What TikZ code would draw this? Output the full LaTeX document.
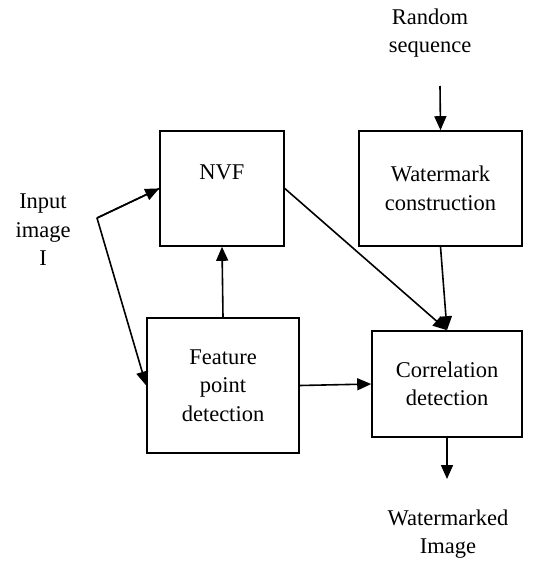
\documentclass[tikz,border=0pt]{standalone}
\usepackage{fontspec}
\setmainfont{Liberation Serif}
\usetikzlibrary{arrows.meta}
\begin{document}
\begin{tikzpicture}[x=1pt,y=-1pt,
  every node/.style={font=\fontsize{22.5}{28.5}\selectfont, align=center, inner sep=0pt},
  blockbox/.style={draw, line width=1.6pt, minimum width=#1},
  flow/.style={line width=1.6pt, -{Triangle[length=14pt,width=12pt]}},
  plain/.style={line width=1.6pt}]
\useasboundingbox (0,0) rectangle (534,561);

% processing blocks
\node[blockbox=124pt, minimum height=115pt] (nvf) at (222,188.5) {};
\node (nvftext) at (222,172) {NVF};
\node[blockbox=163pt, minimum height=115pt] (wm) at (440.5,188.5) {Watermark\\construction};
\node[blockbox=152pt, minimum height=135pt] (fp) at (223,385.5) {Feature\\point\\detection};
\node[blockbox=150pt, minimum height=106pt] (cd) at (447,384) {Correlation\\detection};

% free labels
\node (rand) at (430,33) {Random\\sequence};
\node (inp) at (43,230) {Input\\image\\I};
\node (outl) at (448,534) {Watermarked\\Image};

% connector end points
\coordinate (bend) at (97,218);
\coordinate (rs) at (440,86);
\coordinate (out) at (447,479);

% connectors
\draw[flow] (rs) -- (wm.north);
\draw[plain] (nvf.west) -- (bend);
\draw[flow] (bend) -- (nvf.west);
\draw[flow] (bend) -- (fp.west);
\draw[flow] (fp.north) -- (nvf.south);
\draw[flow] (nvf.east) -- (cd.north);
\draw[flow] (wm.south) -- (cd.north);
\draw[flow] (fp.east) -- (cd.west);
\draw[flow] (cd.south) -- (out);
\end{tikzpicture}
\end{document}
